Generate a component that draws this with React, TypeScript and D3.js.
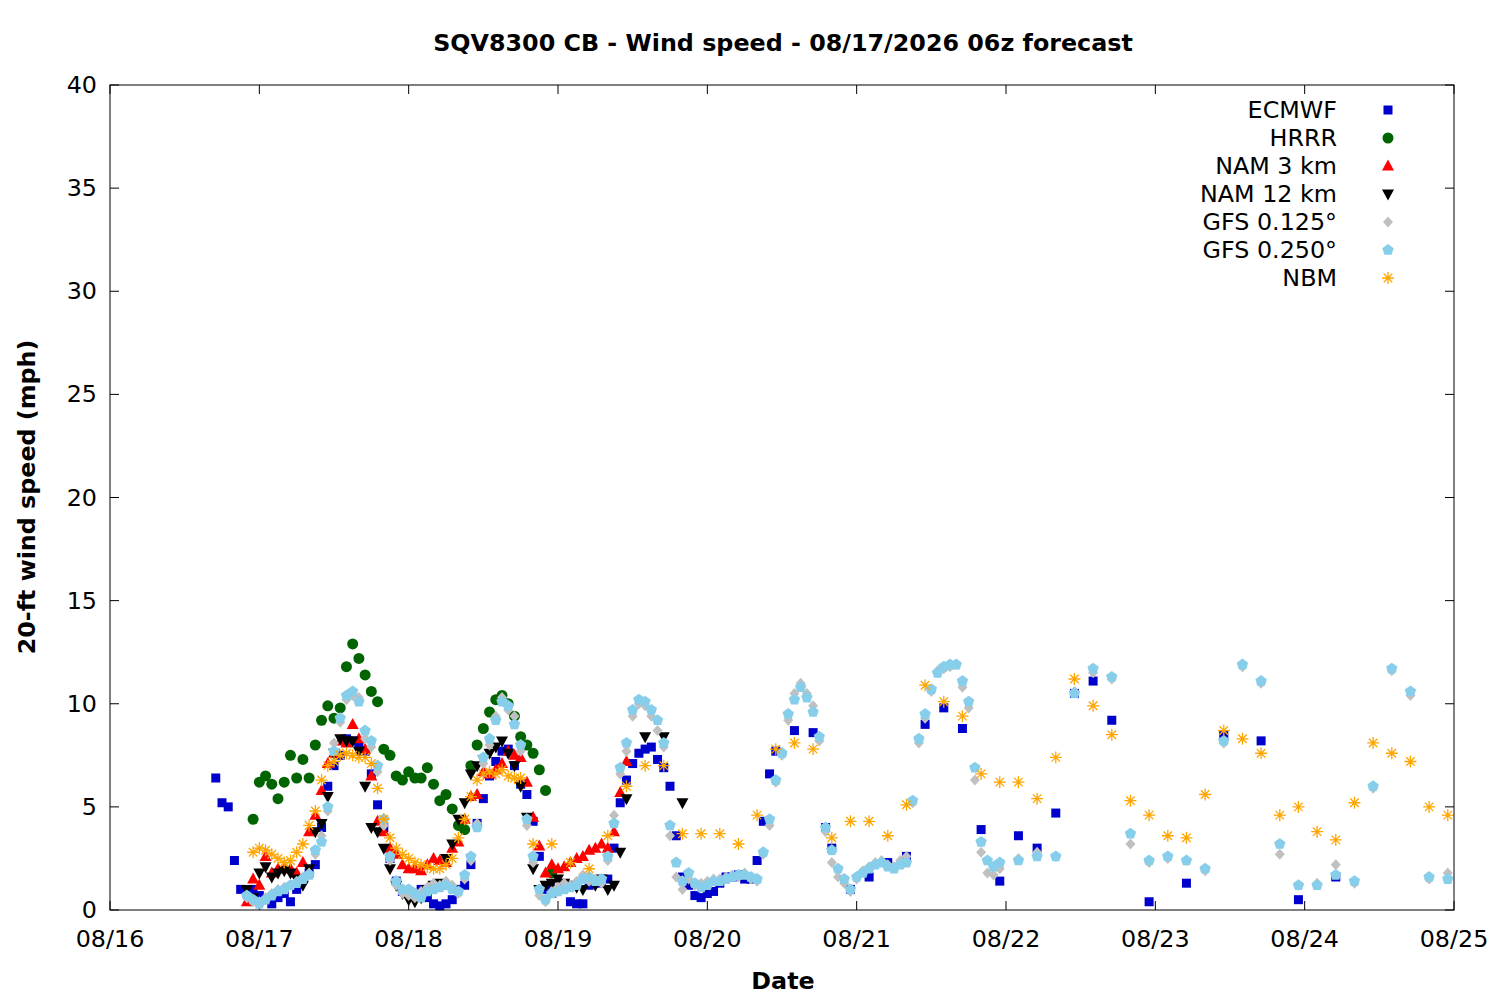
import React from "react";
import * as d3 from "d3";

// hours since 08/16 00z
const ecmwfStart = 17;
const ecmwfHourly = [6.4,5.2,5.0,2.4,1.0,0.8,1.0,0.7,0.5,0.3,0.6,0.8,0.4,1.0,1.5,1.8,2.2,4.0,6.0,7.0,7.5,8.3,8.2,8.1,7.7,6.6,5.1,4.0,2.5,1.4,0.9,0.8,0.7,1.0,0.6,0.3,0.2,0.3,0.5,1.0,1.2,2.2,4.2,5.4,6.5,7.2,7.7,7.8,7.0,6.1,5.6,4.3,2.6,1.0,0.8,1.0,1.1,0.4,0.3,0.3,1.2,1.4,1.3,1.5,3.0,5.2,6.3,7.1,7.6,7.8,7.9,7.3,6.9,6.0,3.6,1.6,1.2,0.7,0.6,0.8,0.9,1.3,1.6,1.6,1.7,1.5,1.5,2.4,4.3,6.6,7.7];
const ecmwfLateHours = [110,113,115,116,119,122,125,128,131,134,137,140,143,146,149,152,155,158,161,167,173,179,185,191,197];
const ecmwfLateValues = [8.7,8.6,4.0,3.0,1.0,1.6,2.3,2.6,9.0,9.8,8.8,3.9,1.4,3.6,3.0,4.7,10.5,11.1,9.2,0.4,1.3,8.5,8.2,0.5,1.6];

const hrrrStart = 23;
const hrrrValues = [4.4,6.2,6.5,6.1,5.4,6.2,7.5,6.4,7.3,6.4,8.0,9.2,9.9,9.3,9.8,11.8,12.9,12.2,11.4,10.6,10.1,7.8,7.5,6.5,6.3,6.7,6.4,6.4,6.9,6.1,5.3,5.6,4.9,4.1,3.9,7.0,8.0,8.8,9.6,10.2,10.4,10.0,9.4,8.4,8.0,7.6,6.8,5.8,1.8];

const nam3Start = 22;
const nam3Values = [0.4,1.5,1.2,2.6,1.8,2.0,2.0,2.0,1.8,2.3,3.8,4.6,5.8,7.1,7.6,8.2,8.1,9.0,8.3,7.8,6.5,4.3,3.8,3.0,2.7,2.2,2.0,2.0,1.9,2.2,2.5,2.4,2.3,3.0,3.3,4.4,5.5,5.6,6.7,6.6,6.8,7.1,7.7,7.5,7.4,6.2,4.5,3.1,1.8,2.2,2.0,2.1,2.3,2.5,2.6,2.9,3.0,3.2,3.0,3.8,5.7,7.2];

const nam12Start = 22;
const nam12Hourly = [1.0,0.6,1.8,2.1,1.6,1.8,1.9,1.8,1.5,1.2,2.0,3.8,4.2,5.5,7.6,8.3,8.2,8.2,7.7,6.0,4.0,3.8,3.0,2.0,1.2,0.8,0.5,0.4,0.6,1.0,1.2,1.3,2.5,3.2,4.4,5.2,6.6,7.0,7.3,7.6,7.9,8.2,7.6,7.0,6.0,4.5,2.0,1.0,1.2,1.3,1.5,1.3,1.2,1.1,1.0,1.4,1.2,1.5,1.0,1.2,2.8];
const nam12LateHours = [83,86,89,92];
const nam12LateValues = [5.4,8.4,8.4,5.2];

const gfsStart = 22;
const gfs025Hourly = [0.7,0.5,0.3,0.5,0.7,0.9,1.0,1.2,1.3,1.5,1.7,2.9,3.3,5.0,7.7,9.3,10.4,10.6,10.1,8.7,8.2,7.0,4.4,2.6,1.4,1.0,1.0,0.8,0.6,0.9,1.0,1.1,1.2,1.0,0.9,1.7,2.6,4.0,7.4,8.3,9.2,10.1,9.9,9.0,8.0,4.4,2.6,1.0,0.5,0.8,0.9,1.0,1.1,1.2,1.5,1.6,1.4,1.5,2.6,4.2,6.9,8.1,9.7,10.2,10.1,9.7,9.2,8.1,4.1,2.3,1.4,1.8,1.3,1.1,1.2,1.4,1.4,1.5,1.6,1.7,1.7,1.6,1.5,2.8,4.4,6.3,7.6,9.5,10.2,10.8,10.3,9.6,8.4,4.0,2.9,2.0,1.5,1.0,1.6,1.8,2.0,2.2,2.3,2.1,2.0,2.2,2.3,5.3,8.3,9.5,10.7,11.5,11.8,11.9,11.9,11.1,10.1,6.9,3.3,2.4,2.1,2.3];
const gfs0125Hourly = [0.6,0.4,0.4,0.6,0.8,1.0,1.1,1.2,1.4,1.6,1.8,2.7,3.6,4.8,8.1,9.1,10.2,10.4,10.3,8.3,7.9,6.7,4.1,2.4,1.2,0.8,0.7,0.6,0.9,1.1,1.3,1.2,1.4,1.2,0.8,1.5,2.4,4.2,7.1,8.0,9.4,10.3,9.7,9.4,7.7,4.1,2.3,0.7,0.4,0.9,1.1,1.3,1.2,1.4,1.7,1.4,1.5,1.3,2.4,4.6,6.6,7.7,9.4,10.0,9.9,9.4,8.7,7.9,3.6,1.6,1.0,1.5,1.2,1.3,1.4,1.5,1.5,1.6,1.7,1.6,1.8,1.5,1.4,2.7,4.1,6.2,7.5,9.2,10.5,11.0,10.5,9.9,8.2,3.8,2.3,1.6,1.3,0.9,1.5,1.9,2.1,2.3,2.4,2.2,2.1,2.4,2.6,5.2,8.1,9.3,10.6,11.6,11.7,11.8,11.9,10.8,9.8,6.3,2.8,1.8,1.7,2.0];
const gfsLateHours = [146,149,152,155,158,161,164,167,170,173,176,179,182,185,188,191,194,197,200,203,206,209,212,215];
const gfs025Late = [2.4,2.6,2.6,10.5,11.7,11.3,3.7,2.4,2.6,2.4,2.0,8.2,11.9,11.1,3.2,1.2,1.2,1.7,1.4,6.0,11.7,10.6,1.6,1.5];
const gfs0125Late = [2.5,2.8,2.6,10.6,11.5,11.2,3.2,2.3,2.5,2.4,1.9,8.1,11.8,11.0,2.7,1.2,1.3,2.2,1.3,5.9,11.6,10.4,1.5,1.8];

const nbmStart = 23;
const nbmHourly = [2.8,3.0,2.9,2.7,2.5,2.3,2.4,2.8,3.2,4.1,4.8,6.3,7.0,7.2,7.5,7.6,7.5,7.4,7.4,7.1,5.9,4.4,3.5,3.0,2.7,2.5,2.3,2.2,2.1,2.0,2.0,2.2,2.5,3.5,4.4,5.5,6.3,6.6,6.7,6.6,6.8,6.5,6.4,6.4];
const nbmLateHours = [68,71,74,77,80,83,86,89,92,95,98,101,104,107,110,113,116,119,122,125,128,131,134,137,140,143,146,149,152,155,158,161,164,167,170,173,176,179,182,185,188,191,194,197,200,203,206,209,212,215];
const nbmLateValues = [3.2,3.2,2.3,2.0,3.6,6.0,7.0,7.0,3.7,3.7,3.7,3.2,4.6,7.8,8.1,7.8,3.5,4.3,4.3,3.6,5.1,10.9,10.1,9.4,6.6,6.2,6.2,5.4,7.4,11.2,9.9,8.5,5.3,4.6,3.6,3.5,5.6,8.7,8.3,7.6,4.6,5.0,3.8,3.4,5.2,8.1,7.6,7.2,5.0,4.6];

const xTickLabels = ["08/16","08/17","08/18","08/19","08/20","08/21","08/22","08/23","08/24","08/25"];
const yTicks = [0,5,10,15,20,25,30,35,40];
const seriesNames = ["ECMWF","HRRR","NAM 3 km","NAM 12 km","GFS 0.125°","GFS 0.250°","NBM"];

type Pt = { h: number; v: number };
const hourly = (start: number, vals: number[]): Pt[] => vals.map((v, i) => ({ h: start + i, v }));
const pairs = (hs: number[], vs: number[]): Pt[] => hs.map((h, i) => ({ h, v: vs[i] }));

const ML = 110, MR = 1454, MT = 85, MB = 910;
const x = d3.scaleLinear().domain([0, 216]).range([ML, MR]);
const y = d3.scaleLinear().domain([0, 40]).range([MB, MT]);

function marker(kind: string, cx: number, cy: number, key: string | number) {
  switch (kind) {
    case "square":
      return <rect key={key} x={cx - 4.5} y={cy - 4.5} width={9} height={9} fill="#0000cc" />;
    case "circle":
      return <circle key={key} cx={cx} cy={cy} r={5.5} fill="#006400" />;
    case "up":
      return <path key={key} d={`M${cx},${cy - 6.5}L${cx + 6},${cy + 4.5}L${cx - 6},${cy + 4.5}Z`} fill="#ff0000" />;
    case "down":
      return <path key={key} d={`M${cx},${cy + 6.5}L${cx + 6},${cy - 4.5}L${cx - 6},${cy - 4.5}Z`} fill="#000000" />;
    case "diamond":
      return <path key={key} d={`M${cx},${cy - 5.5}L${cx + 5},${cy}L${cx},${cy + 5.5}L${cx - 5},${cy}Z`} fill="#c0c0c0" />;
    case "pent": {
      const r = 6;
      const pts = d3.range(5).map(i => {
        const a = -Math.PI / 2 + (i * 2 * Math.PI) / 5;
        return `${cx + r * Math.cos(a)},${cy + r * Math.sin(a)}`;
      });
      return <polygon key={key} points={pts.join(" ")} fill="#87ceeb" />;
    }
    default: {
      const r = 6;
      const d = d3.range(4).map(i => {
        const a = (i * Math.PI) / 4;
        return `M${cx - r * Math.cos(a)},${cy - r * Math.sin(a)}L${cx + r * Math.cos(a)},${cy + r * Math.sin(a)}`;
      }).join("");
      return <path key={key} d={d} stroke="#ffa500" strokeWidth={1.3} fill="none" />;
    }
  }
}

export default function App() {
  const series: { name: string; kind: string; pts: Pt[] }[] = [
    { name: seriesNames[0], kind: "square", pts: [...hourly(ecmwfStart, ecmwfHourly), ...pairs(ecmwfLateHours, ecmwfLateValues)] },
    { name: seriesNames[1], kind: "circle", pts: hourly(hrrrStart, hrrrValues) },
    { name: seriesNames[2], kind: "up", pts: hourly(nam3Start, nam3Values) },
    { name: seriesNames[3], kind: "down", pts: [...hourly(nam12Start, nam12Hourly), ...pairs(nam12LateHours, nam12LateValues)] },
    { name: seriesNames[4], kind: "diamond", pts: [...hourly(gfsStart, gfs0125Hourly), ...pairs(gfsLateHours, gfs0125Late)] },
    { name: seriesNames[5], kind: "pent", pts: [...hourly(gfsStart, gfs025Hourly), ...pairs(gfsLateHours, gfs025Late)] },
    { name: seriesNames[6], kind: "ast", pts: [...hourly(nbmStart, nbmHourly), ...pairs(nbmLateHours, nbmLateValues)] },
  ];
  const font = "'DejaVu Sans', sans-serif";
  const fs = 23.8;
  return (
    <svg width={1500} height={1000} style={{ position: "absolute", left: 0, top: 0, background: "#fff" }} fontFamily={font}>
      <rect width={1500} height={1000} fill="#fff" />
      <text x={783} y={51} textAnchor="middle" fontSize={fs} fontWeight="bold">SQV8300 CB - Wind speed - 08/17/2026 06z forecast</text>
      {yTicks.map(t => (
        <g key={"y" + t}>
          <line x1={ML} x2={ML + 9} y1={y(t)} y2={y(t)} stroke="#000" />
          <line x1={MR} x2={MR - 9} y1={y(t)} y2={y(t)} stroke="#000" />
          <text x={97} y={y(t) + 8} textAnchor="end" fontSize={fs}>{t}</text>
        </g>
      ))}
      {xTickLabels.map((l, i) => (
        <g key={"x" + i}>
          <line x1={x(i * 24)} x2={x(i * 24)} y1={MB} y2={MB - 9} stroke="#000" />
          <line x1={x(i * 24)} x2={x(i * 24)} y1={MT} y2={MT + 9} stroke="#000" />
          <text x={x(i * 24)} y={947} textAnchor="middle" fontSize={fs}>{l}</text>
        </g>
      ))}
      <text x={783} y={989} textAnchor="middle" fontSize={fs} fontWeight="bold">Date</text>
      <text transform="translate(35,497) rotate(-90)" textAnchor="middle" fontSize={fs} fontWeight="bold">20-ft wind speed (mph)</text>
      {series.map((s, si) => (
        <g key={s.name}>
          {s.pts.map((p, i) => marker(s.kind, x(p.h), y(p.v), i))}
          <text x={1337} y={118 + si * 28} textAnchor="end" fontSize={fs}>{s.name}</text>
          {marker(s.kind, 1388, 110 + si * 28, "leg")}
        </g>
      ))}
      <rect x={ML} y={MT} width={MR - ML} height={MB - MT} fill="none" stroke="#000" />
    </svg>
  );
}
